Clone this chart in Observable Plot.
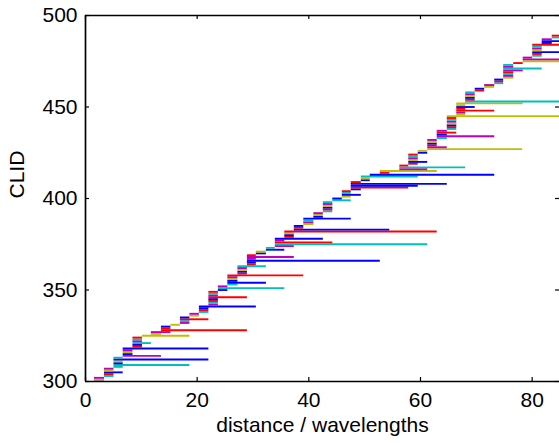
<!DOCTYPE html>
<html><head><meta charset="utf-8">
<script src="https://cdn.jsdelivr.net/npm/d3@7"></script>
<script src="https://cdn.jsdelivr.net/npm/@observablehq/plot@0.6"></script>
<style>html,body{margin:0;padding:0;background:#fff}</style>
</head><body><div id="chart"></div>
<script>
// CLID of each segment
const clids = [
300,301,302,303,304,305,306,307,308,309,
310,311,312,313,314,315,316,317,318,319,
320,321,322,323,324,325,326,327,328,329,
330,331,332,333,334,335,336,337,338,339,
340,341,342,343,344,345,346,347,348,349,
350,351,352,353,354,355,356,357,358,359,
360,361,362,363,364,365,366,367,368,369,
370,371,372,373,374,375,376,377,378,379,
380,381,382,383,384,385,386,387,388,389,
390,391,392,393,394,395,396,397,398,399,
400,401,402,403,404,405,406,407,408,409,
410,411,412,413,414,415,416,417,418,419,
420,421,422,423,424,425,426,427,428,429,
430,431,432,433,434,435,436,437,438,439,
440,441,442,443,444,445,446,447,448,449,
450,451,452,453,454,455,456,457,458,459,
460,461,462,463,464,465,466,467,468,469,
470,471,472,473,474,475,476,477,478,479,
480,481,482,483,484,485,486,487,488,489];
// start distance (wavelengths)
const startDist = [
1.6,1.6,1.6,3.4,3.4,3.4,3.4,3.4,5.1,5.1,
5.1,5.1,5.1,5.1,6.75,6.75,6.75,6.75,6.75,8.5,
8.5,8.5,8.5,8.5,8.5,10.2,11.8,11.8,13.6,13.6,
13.6,15.3,17.0,17.0,17.0,17.0,18.7,18.7,20.4,20.4,
20.4,20.4,22.1,22.1,22.1,22.1,22.1,22.1,22.1,22.1,
23.8,23.8,23.8,25.5,25.5,25.5,25.5,25.5,25.5,27.3,
27.3,27.3,27.3,27.3,29.0,29.0,29.0,29.0,29.0,29.0,
30.6,30.6,32.4,32.4,34.0,34.0,34.0,34.0,34.0,35.7,
35.7,35.7,35.7,37.4,37.4,37.4,39.1,39.1,39.1,39.1,
40.9,40.9,40.9,42.6,42.6,42.6,42.6,42.6,42.6,44.3,
44.3,46.0,46.0,46.0,46.0,47.6,47.6,47.6,47.6,47.6,
49.4,49.4,49.4,51.0,52.8,52.8,56.3,56.3,56.3,57.9,
57.9,57.9,57.9,57.9,57.9,59.6,59.6,61.3,61.3,61.3,
61.3,61.3,61.3,63.0,63.0,63.0,63.0,63.0,64.8,64.8,
64.8,64.8,64.8,64.8,64.8,64.8,66.5,66.5,66.5,66.5,
66.5,66.5,66.5,68.1,68.1,68.1,68.1,68.1,68.1,69.8,
69.8,71.5,71.5,73.3,73.3,73.3,74.9,74.9,74.9,74.9,
74.9,74.9,74.9,74.9,76.7,78.4,78.4,78.4,80.1,80.1,
80.1,80.1,80.1,80.1,80.1,81.8,81.8,81.8,83.6,83.6];
// end distance (wavelengths)
const endDist = [
3.4,3.4,3.4,5.1,5.1,6.75,5.1,5.1,6.75,18.7,
6.75,6.75,22.1,6.75,13.6,8.5,8.5,8.5,22.1,10.2,
10.2,11.8,10.2,10.2,10.2,18.7,13.6,15.3,29.0,15.3,
15.3,17.0,18.7,18.7,22.1,18.7,20.4,20.4,22.1,22.1,
22.1,30.6,23.8,23.8,23.8,23.8,29.0,23.8,23.8,23.8,
25.5,35.7,25.5,27.3,32.4,27.3,27.3,27.3,39.1,29.0,
29.0,29.0,29.0,32.4,30.6,30.6,52.8,30.6,37.4,30.6,
32.4,32.4,35.7,34.0,37.4,61.3,44.3,35.7,42.6,37.4,
37.4,37.4,63.0,54.5,39.1,39.1,40.9,40.9,40.9,47.6,
42.6,42.6,42.6,44.3,44.3,44.3,44.3,44.3,44.3,47.6,
46.0,47.6,49.4,47.6,47.6,49.4,57.9,59.6,64.8,49.4,
51.0,51.0,59.6,73.3,54.5,63.0,61.3,68.1,57.9,59.6,
61.3,59.6,59.6,59.6,59.6,61.3,61.3,78.3,64.8,63.0,
63.0,63.0,63.0,64.8,73.3,64.8,66.5,64.8,66.5,66.5,
66.5,66.5,66.5,66.5,66.5,90,68.1,68.1,73.3,68.1,
69.8,68.1,78.4,90,69.8,69.8,69.8,69.8,69.8,71.5,
71.5,73.3,73.3,74.9,74.9,74.9,76.7,76.7,76.7,76.7,
78.4,81.8,76.7,76.7,78.4,90,90,80.1,81.8,81.8,
90,81.8,81.8,81.8,90,83.6,90,83.6,85.3,85.3];
// colour code of each segment (b blue, r red, c cyan, m magenta, y olive)
const colourCodes = [
"bymcrbymcc","bybcmbymbr","bcmcryymrr","bymcrbymcr","bbmcrbrmcr",
"bcmcbbymrr","bymcrbbmmr","bybcmcrmbr","byrbrbymcb","bymcrbymcc",
"bybcrbrbbr","bycbrymcrr","bymcrbyymr","bymcmbrmcr","bymcryymrr",
"byycrbymcr","bymcrbymcr","mcmcrymmcr","bymcrbbmcr"].join("").split("");
const palette = {b: "#0000ff", r: "#ff0000", c: "#00bfbf", m: "#bf00bf", y: "#bfbf00"};

const xTicks = [0, 20, 40, 60, 80];
const yTicks = [300, 350, 400, 450, 500];
const xLabel = "distance / wavelengths";
const yLabel = "CLID";

const rows = clids.map((c, i) => ({clid: c, x0: startDist[i], x1: endDist[i], col: palette[colourCodes[i]]}));

const chart = Plot.plot({
  width: 559, height: 443,
  marginLeft: 85, marginRight: 0, marginTop: 15, marginBottom: 62,
  style: {fontFamily: "'Liberation Sans', Arial, Helvetica, sans-serif", fontSize: "21px", color: "black", background: "white"},
  x: {domain: [0, 84.9]},
  y: {domain: [300, 500]},
  color: {type: "identity"},
  marks: [
    Plot.ruleY(rows, {y: "clid", x1: "x0", x2: "x1", stroke: "col", strokeWidth: 1.9, clip: true}),
    Plot.ruleX([0], {stroke: "black", strokeWidth: 1.7}),
    Plot.ruleY([300, 500], {stroke: "black", strokeWidth: 1.7}),
    Plot.tickX(xTicks, {x: d => d, insetTop: 362, stroke: "black", strokeWidth: 1.2}),
    Plot.tickX(xTicks, {x: d => d, insetBottom: 362, stroke: "black", strokeWidth: 1.2}),
    Plot.tickY(yTicks, {y: d => d, insetRight: 470, stroke: "black", strokeWidth: 1.2}),
    Plot.tickY(yTicks, {y: d => d, insetLeft: 470, stroke: "black", strokeWidth: 1.2}),
    Plot.axisX({ticks: xTicks, tickSize: 0, tickPadding: 11, label: null}),
    Plot.axisY({ticks: yTicks, tickSize: 0, tickPadding: 8, label: null}),
    Plot.text([xLabel], {frameAnchor: "bottom", dy: 50, fill: "black"}),
    Plot.text([yLabel], {frameAnchor: "left", dx: -68, rotate: -90, fill: "black"})
  ]
});
document.getElementById("chart").appendChild(chart);
</script>
</body></html>
